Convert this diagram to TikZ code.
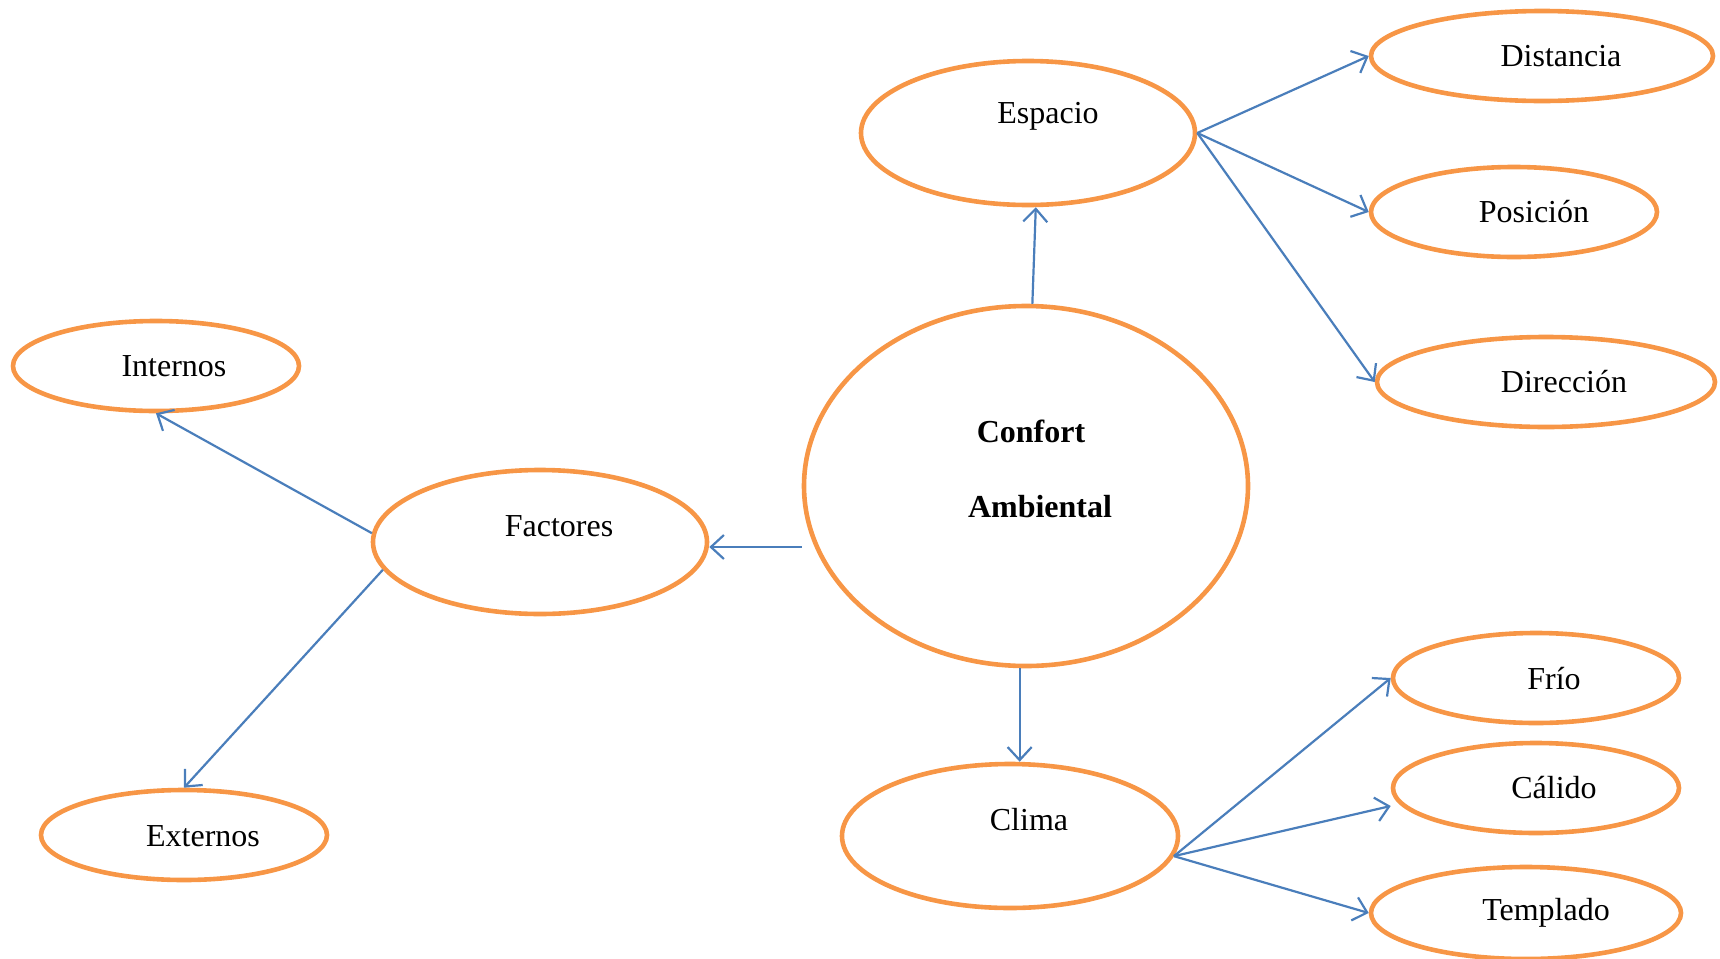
\documentclass[tikz,border=0pt]{standalone}
\usepackage{fontspec}
\setmainfont{Liberation Serif}
\usetikzlibrary{shapes.geometric,arrows.meta}
\definecolor{orng}{HTML}{F79646}
\definecolor{blu}{HTML}{4A7EBB}
\begin{document}
\begin{tikzpicture}[x=0.5pt,y=-0.5pt,
  ellbox/.style 2 args={draw=orng,line width=2.3pt,ellipse,inner sep=0pt,minimum width=#1,minimum height=#2},
  txt/.style={font=\fontsize{16}{19}\selectfont,inner sep=0pt},
  conn/.style={draw=blu,line width=1.1pt,-{Straight Barb[length=6.5pt,width=12pt]}}]
\useasboundingbox (0,0) rectangle (1720,959);
% ellipses
\node[ellbox={167pt}{72pt}] (esp) at (1028,133) {};
\node[ellbox={171pt}{45pt}] (dist) at (1542,56) {};
\node[ellbox={143pt}{45pt}] (pos) at (1514,212) {};
\node[ellbox={169pt}{45pt}] (dir) at (1546,382) {};
\node[ellbox={143pt}{45pt}] (int) at (156,366) {};
\node[ellbox={167pt}{72pt}] (fac) at (540,542) {};
\node[ellbox={222pt}{180pt}] (conf) at (1026,486) {};
\node[ellbox={143pt}{45pt}] (ext) at (184,835) {};
\node[ellbox={168pt}{72pt}] (clima) at (1010,836) {};
\node[ellbox={143pt}{45pt}] (frio) at (1536,678) {};
\node[ellbox={143pt}{45pt}] (cal) at (1536,788) {};
\node[ellbox={155pt}{46pt}] (temp) at (1526,913) {};
% texts
\node[txt] (tesp) at (1048,116) {Espacio};
\node[txt] (tdist) at (1561,56) {Distancia};
\node[txt] (tpos) at (1534,212) {Posición};
\node[txt] (tdir) at (1564,382) {Dirección};
\node[txt] (tint) at (174,366) {Internos};
\node[txt] (tfac) at (559,526) {Factores};
\node[txt,font=\fontsize{16}{19}\selectfont\bfseries] (tconf1) at (1031,431) {Confort};
\node[txt,font=\fontsize{16}{19}\selectfont\bfseries] (tconf2) at (1040,507) {Ambiental};
\node[txt] (text) at (203,836) {Externos};
\node[txt] (tclima) at (1029,820) {Clima};
\node[txt] (tfrio) at (1554,679) {Frío};
\node[txt] (tcal) at (1554,788) {Cálido};
\node[txt] (ttemp) at (1546,913) {Templado};
% connectors
\draw[conn] (conf.88) -- (esp.-84);
\draw[conn] (esp.east) -- (dist.west);
\draw[conn] (esp.east) -- (pos.west);
\draw[conn] (esp.east) -- (dir.west);
\draw[conn] ([yshift=-30.5pt]conf.west) -- ([yshift=-30.5pt]conf.west -| fac.east);
\draw[conn] (fac.177) -- (int.south);
\draw[conn] (fac.190) -- (ext.north);
\draw[conn] (conf.-92) -- (conf.-92 |- clima.north);
\draw[conn] (clima.-7) -- (frio.west);
\draw[conn] (clima.-7) -- ([yshift=-9pt]cal.west);
\draw[conn] (clima.-7) -- (temp.west);
\end{tikzpicture}
\end{document}
